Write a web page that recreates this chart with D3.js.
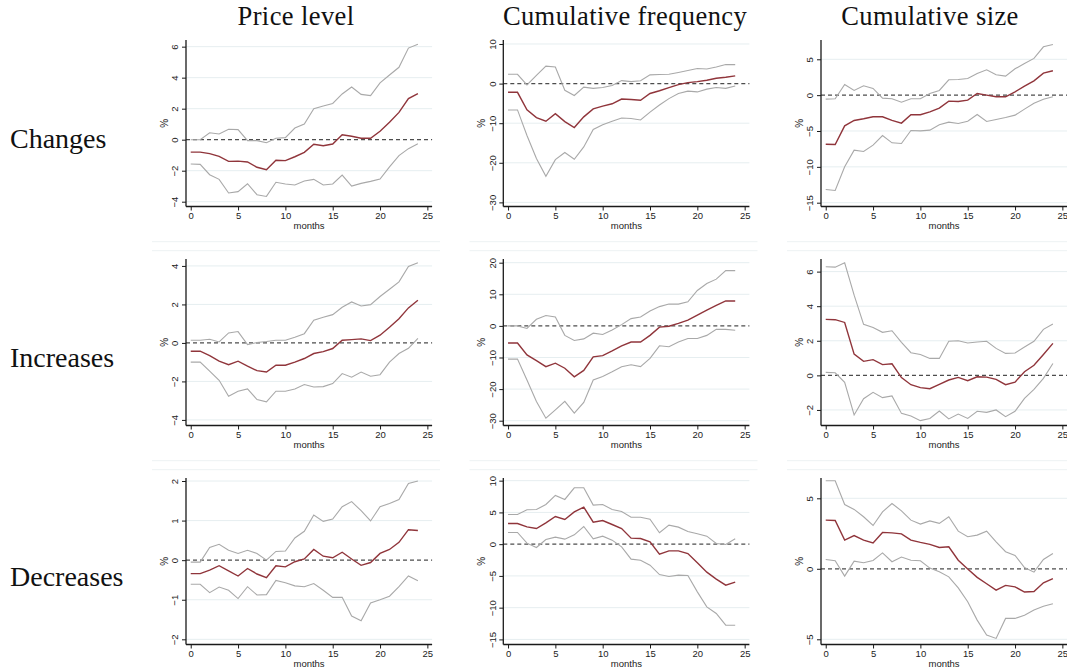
<!DOCTYPE html>
<html><head><meta charset="utf-8">
<script src="https://cdn.jsdelivr.net/npm/d3@7"></script>
<style>body{margin:0;background:#fff}svg{display:block}</style>
</head><body>
<svg id="c" width="1067" height="671"></svg>
<script>
// ---------------- data ----------------
const months = [0,1,2,3,4,5,6,7,8,9,10,11,12,13,14,15,16,17,18,19,20,21,22,23,24];
const columnTitles = ["Price level", "Cumulative frequency", "Cumulative size"];
const rowTitles = ["Changes", "Increases", "Decreases"];
const xTicks = [0,5,10,15,20,25];
const xLabel = "months";
const yLabel = "%";

// Price level — Changes
const plChgEst = [-0.80,-0.80,-0.90,-1.08,-1.40,-1.38,-1.44,-1.78,-1.94,-1.33,-1.35,-1.10,-0.82,-0.30,-0.39,-0.28,0.32,0.22,0.09,0.09,0.54,1.12,1.76,2.65,2.97];
const plChgHi  = [0.00,0.00,0.45,0.37,0.67,0.65,-0.06,-0.06,-0.20,0.09,0.13,0.75,1.01,2.00,2.17,2.34,2.95,3.40,2.92,2.84,3.66,4.17,4.67,5.91,6.15];
const plChgLo  = [-1.57,-1.59,-2.26,-2.56,-3.44,-3.35,-2.84,-3.55,-3.66,-2.75,-2.86,-2.92,-2.67,-2.56,-2.92,-2.86,-2.28,-2.99,-2.82,-2.69,-2.54,-1.76,-1.03,-0.58,-0.26];
const plChgTicks = [-4,-2,0,2,4,6];

// Cumulative frequency — Changes
const cfChgEst = [-2.2,-2.2,-6.6,-8.6,-9.5,-7.6,-9.6,-11.1,-8.4,-6.4,-5.7,-5.1,-3.9,-4.0,-4.2,-2.5,-1.8,-1.0,-0.25,0.25,0.5,0.85,1.35,1.6,1.95];
const cfChgHi  = [2.35,2.35,-0.35,2.1,4.4,4.2,-1.7,-3.0,-0.9,-1.2,-1.0,-0.5,0.75,0.5,0.7,2.2,2.3,2.35,2.8,3.3,3.8,3.7,4.2,4.8,4.8];
const cfChgLo  = [-6.65,-6.65,-13.1,-18.9,-23.4,-19.2,-17.4,-19.1,-16.0,-11.6,-10.4,-9.5,-8.7,-8.8,-9.2,-7.2,-5.4,-3.8,-2.5,-1.9,-2.1,-1.4,-1.0,-1.2,-0.6];
const cfChgTicks = [-30,-20,-10,0,10];

// Cumulative size — Changes
const csChgEst = [-6.84,-6.88,-4.28,-3.53,-3.30,-3.02,-3.02,-3.53,-3.90,-2.74,-2.74,-2.33,-1.81,-0.84,-0.88,-0.70,0.23,0.00,-0.23,-0.23,0.47,1.26,2.00,3.07,3.40];
const csChgHi  = [-0.56,-0.51,1.49,0.65,1.30,0.93,-0.42,-0.51,-0.98,-0.51,-0.51,0.23,0.65,2.14,2.19,2.33,3.02,3.53,2.84,2.65,3.67,4.42,5.12,6.74,7.07];
const csChgLo  = [-13.16,-13.30,-10.0,-7.67,-7.86,-6.98,-5.63,-6.65,-6.74,-4.93,-4.98,-4.88,-4.14,-3.77,-3.95,-3.63,-2.70,-3.67,-3.40,-3.12,-2.79,-1.95,-1.12,-0.56,-0.23];
const csChgTicks = [-15,-10,-5,0,5];

// Price level — Increases
const plIncEst = [-0.43,-0.43,-0.66,-0.95,-1.13,-0.95,-1.21,-1.44,-1.51,-1.16,-1.16,-1.00,-0.81,-0.55,-0.45,-0.29,0.14,0.17,0.21,0.12,0.40,0.81,1.26,1.82,2.22];
const plIncHi  = [0.14,0.14,0.19,0.05,0.52,0.59,-0.09,0.02,0.07,0.14,0.14,0.29,0.48,1.18,1.33,1.47,1.85,2.13,1.92,1.99,2.41,2.79,3.17,3.97,4.17];
const plIncLo  = [-1.00,-1.00,-1.47,-1.94,-2.77,-2.51,-2.39,-2.94,-3.06,-2.51,-2.51,-2.39,-2.16,-2.29,-2.27,-2.11,-1.59,-1.78,-1.51,-1.73,-1.65,-1.00,-0.55,-0.28,0.24];
const plIncTicks = [-4,-2,0,2,4];

// Cumulative frequency — Increases
const cfIncEst = [-5.4,-5.4,-9.2,-11.0,-12.9,-11.8,-13.4,-16.1,-14.1,-9.8,-9.4,-7.9,-6.3,-5.1,-5.1,-3.0,-0.4,-0.1,0.8,1.8,3.4,5.0,6.5,7.9,7.9];
const cfIncHi  = [0.0,0.0,-0.8,2.1,3.3,2.8,-3.0,-4.6,-4.1,-2.3,-2.7,-1.3,0.4,2.3,2.8,4.7,6.1,6.9,6.9,7.6,11.2,13.4,14.8,17.5,17.5];
const cfIncLo  = [-10.5,-10.5,-17.1,-23.9,-29.2,-26.6,-23.9,-27.6,-24.2,-17.1,-16.0,-14.5,-12.9,-12.3,-12.9,-10.3,-6.3,-6.6,-5.1,-4.0,-4.0,-3.0,-1.1,-1.1,-1.4];
const cfIncTicks = [-30,-20,-10,0,10,20];

// Cumulative size — Increases
const csIncEst = [3.24,3.22,3.06,1.23,0.81,0.91,0.62,0.67,-0.13,-0.54,-0.71,-0.77,-0.52,-0.27,-0.12,-0.31,-0.08,-0.10,-0.23,-0.54,-0.39,0.21,0.58,1.21,1.85];
const csIncHi  = [6.28,6.26,6.51,4.64,2.95,2.77,2.49,2.58,1.91,1.31,1.21,0.98,0.98,1.97,2.00,1.87,1.93,1.97,1.56,1.27,1.29,1.64,1.97,2.66,2.97];
const csIncLo  = [0.17,0.15,-0.40,-2.29,-1.35,-0.98,-1.29,-1.19,-2.20,-2.35,-2.62,-2.49,-2.06,-2.52,-2.24,-2.49,-2.08,-2.14,-2.00,-2.39,-2.08,-1.33,-0.81,-0.17,0.69];
const csIncTicks = [-2,0,2,4,6];

// Price level — Decreases
const plDecEst = [-0.34,-0.34,-0.25,-0.14,-0.27,-0.40,-0.21,-0.35,-0.44,-0.14,-0.17,-0.04,0.03,0.27,0.10,0.06,0.20,0.03,-0.13,-0.06,0.17,0.27,0.45,0.77,0.75];
const plDecHi  = [-0.05,-0.05,0.32,0.40,0.25,0.17,0.25,0.17,0.00,0.22,0.23,0.56,0.73,1.14,0.98,1.04,1.35,1.48,1.25,0.99,1.35,1.43,1.53,1.94,2.00];
const plDecLo  = [-0.61,-0.61,-0.82,-0.68,-0.76,-0.97,-0.67,-0.88,-0.87,-0.51,-0.57,-0.65,-0.67,-0.59,-0.76,-0.94,-0.94,-1.41,-1.53,-1.08,-1.00,-0.91,-0.67,-0.40,-0.52];
const plDecTicks = [-2,-1,0,1,2];

// Cumulative frequency — Decreases
const cfDecEst = [3.26,3.26,2.73,2.47,3.36,4.36,3.89,5.09,5.83,3.47,3.73,3.10,2.47,0.95,0.89,0.37,-1.58,-1.05,-1.05,-1.47,-2.94,-4.41,-5.51,-6.46,-5.99];
const cfDecHi  = [4.67,4.67,5.41,5.46,6.25,7.67,7.04,8.88,8.88,6.15,6.25,5.46,5.15,4.25,4.25,3.94,1.79,2.99,2.68,2.00,1.63,1.26,0.10,-0.05,0.84];
const cfDecLo  = [1.84,1.84,0.16,-0.53,0.74,1.10,0.79,1.47,2.78,0.84,1.26,0.63,-0.42,-2.36,-2.52,-3.31,-4.78,-5.09,-4.88,-4.94,-7.51,-9.87,-10.92,-12.76,-12.76];
const cfDecTicks = [-15,-10,-5,0,5,10];

// Cumulative size — Decreases
const csDecEst = [3.45,3.43,2.03,2.36,2.03,1.84,2.58,2.55,2.48,2.03,1.87,1.73,1.51,1.56,0.61,-0.02,-0.61,-1.06,-1.51,-1.18,-1.28,-1.65,-1.61,-0.99,-0.69];
const csDecHi  = [6.24,6.24,4.56,4.21,3.69,3.07,4.04,4.63,4.11,3.45,3.17,3.40,3.22,3.69,2.67,2.27,2.39,2.67,1.91,1.21,0.95,0.09,-0.24,0.66,1.09];
const csDecLo  = [0.66,0.57,-0.52,0.54,0.43,0.59,1.13,0.50,0.83,0.61,0.57,0.05,-0.21,-0.57,-1.35,-2.34,-3.64,-4.70,-4.94,-3.52,-3.52,-3.29,-2.93,-2.65,-2.48];
const csDecTicks = [-5,0,5];

// ---------------- panels ----------------
const panels = [
  {row:0,col:0,est:plChgEst,hi:plChgHi,lo:plChgLo,ticks:plChgTicks,dom:[-4.31,6.43]},
  {row:0,col:1,est:cfChgEst,hi:cfChgHi,lo:cfChgLo,ticks:cfChgTicks,dom:[-31.04,11.01]},
  {row:0,col:2,est:csChgEst,hi:csChgHi,lo:csChgLo,ticks:csChgTicks,dom:[-15.53,7.69]},
  {row:1,col:0,est:plIncEst,hi:plIncHi,lo:plIncLo,ticks:plIncTicks,dom:[-4.29,4.36]},
  {row:1,col:1,est:cfIncEst,hi:cfIncHi,lo:cfIncLo,ticks:cfIncTicks,dom:[-31.52,21.17]},
  {row:1,col:2,est:csIncEst,hi:csIncHi,lo:csIncLo,ticks:csIncTicks,dom:[-2.90,6.73]},
  {row:2,col:0,est:plDecEst,hi:plDecHi,lo:plDecLo,ticks:plDecTicks,dom:[-2.131,2.076]},
  {row:2,col:1,est:cfDecEst,hi:cfDecHi,lo:cfDecLo,ticks:cfDecTicks,dom:[-15.80,10.42]},
  {row:2,col:2,est:csDecEst,hi:csDecHi,lo:csDecLo,ticks:csDecTicks,dom:[-5.37,6.44]}
];

// ---------------- layout ----------------
const svg = d3.select("#c");
const colAxisX = [186, 503.3, 821];
const plotW = 246.1;
const rowTop = [40, 259, 478];
const rowBot = [206.5, 425.5, 644.5];
const titleX = [296, 625, 930];
const rowLabelY = [147.7, 366.7, 585.7];

const C = {
  est: "#90353b", ci: "#a9a9a9", zero: "#4d4d4d", axis: "#1a1a1a",
  grid: "#e6eef0", region: "#edf2f3"
};
const sans = "'Liberation Sans', Arial, Helvetica, sans-serif";
const serif = "'Liberation Serif', 'Times New Roman', serif";

// faint subgraph region borders
const regionX = [[152,440],[469.5,757.5],[787,1075]];
[241.7, 250.7, 460.7, 469.7].forEach(y => {
  regionX.forEach(([a,b]) => {
    svg.append("line").attr("x1",a).attr("x2",b).attr("y1",y).attr("y2",y)
      .attr("stroke",C.region).attr("stroke-width",1);
  });
});

// column titles
columnTitles.forEach((t,i) => {
  svg.append("text").attr("x",titleX[i]).attr("y",24.5).attr("text-anchor","middle")
    .attr("font-family",serif).attr("font-size",26.5).attr("letter-spacing",0.4)
    .attr("fill","#111").text(t);
});
// row titles
rowTitles.forEach((t,i) => {
  svg.append("text").attr("x",10).attr("y",rowLabelY[i])
    .attr("font-family",serif).attr("font-size",28).attr("fill","#111").text(t);
});

panels.forEach(p => {
  const x0 = colAxisX[p.col], top = rowTop[p.row], bot = rowBot[p.row];
  const x = d3.scaleLinear().domain([-0.5,25.5]).range([x0, x0+plotW]);
  const y = d3.scaleLinear().domain(p.dom).range([bot, top]);
  const g = svg.append("g");

  // gridlines
  g.selectAll(".grid").data(p.ticks.filter(v => v !== 0)).enter().append("line")
    .attr("x1",x0).attr("x2",x0+plotW).attr("y1",d=>y(d)).attr("y2",d=>y(d))
    .attr("stroke",C.grid).attr("stroke-width",1);

  // zero reference line
  g.append("line").attr("x1",x0).attr("x2",x0+plotW).attr("y1",y(0)).attr("y2",y(0))
    .attr("stroke",C.zero).attr("stroke-width",1.2).attr("stroke-dasharray","4,3");

  const line = arr => d3.line().x((d,i)=>x(months[i])).y(d=>y(d))(arr);
  g.append("path").attr("d",line(p.hi)).attr("fill","none").attr("stroke",C.ci).attr("stroke-width",1.1);
  g.append("path").attr("d",line(p.lo)).attr("fill","none").attr("stroke",C.ci).attr("stroke-width",1.1);
  g.append("path").attr("d",line(p.est)).attr("fill","none").attr("stroke",C.est).attr("stroke-width",1.4);

  // y axis
  const ya = g.append("g").attr("transform",`translate(${x0},0)`)
    .call(d3.axisLeft(y).tickValues(p.ticks).tickSize(4).tickPadding(3).tickFormat(d3.format("d")));
  ya.select(".domain").attr("d",`M0,${top}V${bot}`).attr("stroke",C.axis).attr("stroke-width",1.3);
  ya.selectAll(".tick line").attr("stroke",C.axis).attr("stroke-width",1);
  ya.selectAll(".tick text").attr("font-family",sans).attr("font-size",9.5).attr("fill","#222")
    .attr("text-anchor","middle").attr("x",null).attr("dy",null)
    .attr("transform","translate(-11,0) rotate(-90)").attr("y",0).attr("dy","0.35em");

  // x axis
  const xa = g.append("g").attr("transform",`translate(0,${bot})`)
    .call(d3.axisBottom(x).tickValues(xTicks).tickSize(4).tickPadding(2).tickFormat(d3.format("d")));
  xa.select(".domain").attr("d",`M${x0},0H${x0+plotW}`).attr("stroke",C.axis).attr("stroke-width",1.3);
  xa.selectAll(".tick line").attr("stroke",C.axis).attr("stroke-width",1);
  xa.selectAll(".tick text").attr("font-family",sans).attr("font-size",9.5).attr("fill","#222");

  // axis titles
  g.append("text").attr("x",(x(0)+x(25))/2).attr("y",bot+22.8).attr("text-anchor","middle")
    .attr("font-family",sans).attr("font-size",9.5).attr("fill","#222").text(xLabel);
  g.append("text").attr("transform",`translate(${x0-22},${(top+bot)/2}) rotate(-90)`)
    .attr("text-anchor","middle").attr("dy","0.35em")
    .attr("font-family",sans).attr("font-size",10).attr("fill","#222").text(yLabel);
});
</script>
</body></html>
